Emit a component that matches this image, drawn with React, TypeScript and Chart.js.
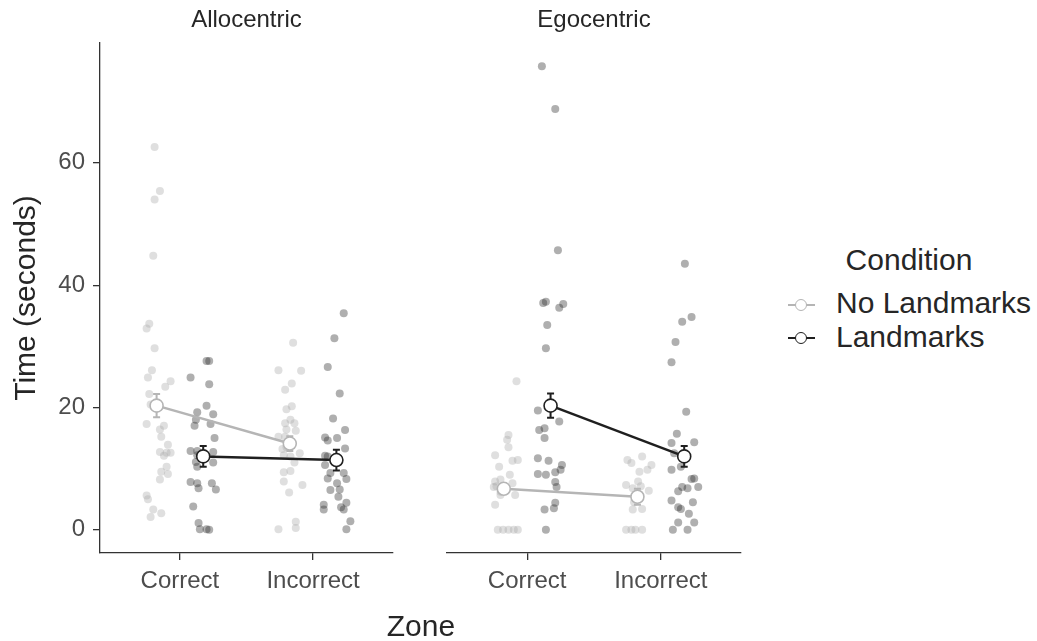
import React, { useEffect, useRef } from 'react';
import { Chart, registerables } from 'chart.js';

Chart.register(...registerables);

// ---------- data ----------
const zoneLabels = ['Correct', 'Incorrect'];
const facetLabels = ['Allocentric', 'Egocentric'];
const conditionLabels = ['No Landmarks', 'Landmarks'];
const yTicks = [0, 20, 40, 60];
const xAxisTitle = 'Zone';
const yAxisTitle = 'Time (seconds)';
const legendTitle = 'Condition';

// Allocentric, No Landmarks (Correct then Incorrect); x = category position incl. dodge + jitter
const alloNoLmY = [62.6, 55.4, 54.0, 44.8, 33.7, 32.9, 29.7, 26.1, 24.9, 24.3, 23.4, 22.2, 20.5, 17.3, 17.0, 16.4, 15.2, 13.9, 12.6, 12.7, 12.6, 12.1, 10.3, 9.5, 9.1, 8.2, 5.6, 5.0, 3.3, 2.7, 2.1,
  30.6, 26.1, 26.0, 23.9, 22.9, 19.7, 20.2, 18.0, 17.4, 17.4, 16.4, 16.2, 15.2, 15.2, 12.2, 12.5, 12.0, 9.4, 9.6, 7.9, 7.3, 6.1, 1.3, 0.3, 0.1, 14.3, 13.5, 11.0, 13.2];
const alloNoLmX = [0.81, 0.85, 0.81, 0.80, 0.77, 0.75, 0.81, 0.79, 0.76, 0.93, 0.89, 0.77, 0.78, 0.75, 0.88, 0.85, 0.86, 0.91, 0.90, 0.85, 0.93, 0.88, 0.90, 0.86, 0.91, 0.85, 0.75, 0.76, 0.80, 0.86, 0.78,
  1.85, 1.74, 1.91, 1.84, 1.79, 1.80, 1.84, 1.83, 1.79, 1.86, 1.80, 1.87, 1.74, 1.79, 1.78, 1.90, 1.83, 1.78, 1.83, 1.78, 1.92, 1.82, 1.87, 1.87, 1.74, 1.82, 1.80, 1.86, 1.77];

// Allocentric, Landmarks
const alloLmY = [27.6, 27.6, 24.9, 23.8, 20.3, 19.2, 18.9, 18.0, 17.0, 17.3, 15.0, 12.9, 12.9, 10.3, 11.0, 7.8, 7.6, 6.8, 7.6, 6.6, 3.8, 1.1, 0.1, 0.1, 0.0, 12.2, 12.7, 11.1,
  35.4, 31.3, 26.6, 22.3, 18.2, 16.3, 15.1, 14.6, 15.0, 13.3, 12.0, 10.6, 9.3, 8.4, 9.3, 8.3, 6.5, 7.6, 6.6, 5.4, 4.4, 4.1, 3.3, 3.7, 3.3, 1.4, 0.1, 12.1];
const alloLmX = [1.20, 1.22, 1.08, 1.22, 1.20, 1.13, 1.25, 1.12, 1.11, 1.23, 1.26, 1.08, 1.13, 1.13, 1.25, 1.08, 1.13, 1.14, 1.24, 1.27, 1.10, 1.14, 1.15, 1.20, 1.22, 1.13, 1.25, 1.12,
  2.23, 2.16, 2.11, 2.20, 2.15, 2.24, 2.09, 2.11, 2.18, 2.24, 2.11, 2.09, 2.13, 2.11, 2.23, 2.25, 2.13, 2.18, 2.20, 2.19, 2.25, 2.08, 2.08, 2.21, 2.23, 2.28, 2.25, 2.09];

// Egocentric, No Landmarks
const egoNoLmY = [24.3, 15.5, 14.7, 13.5, 12.2, 11.3, 11.4, 10.3, 9.0, 7.9, 8.2, 7.1, 7.6, 5.7, 5.7, 4.1, 0, 0, 0, 0, 0, 7.0, 6.5, 6.2,
  11.4, 12.0, 10.9, 10.6, 9.5, 9.8, 7.9, 7.3, 7.1, 6.4, 6.8, 3.3, 3.4, 0, 0, 0, 0, 5.0, 4.5];
const egoNoLmX = [0.92, 0.86, 0.85, 0.86, 0.76, 0.89, 0.93, 0.79, 0.87, 0.76, 0.80, 0.77, 0.89, 0.91, 0.80, 0.76, 0.78, 0.82, 0.86, 0.90, 0.93, 0.75, 0.83, 0.80,
  1.75, 1.86, 1.78, 1.93, 1.84, 1.90, 1.83, 1.74, 1.85, 1.91, 1.79, 1.79, 1.86, 1.74, 1.78, 1.81, 1.86, 1.82, 1.80];

// Egocentric, Landmarks
const egoLmY = [75.8, 68.8, 45.7, 37.1, 37.3, 36.3, 36.9, 33.5, 29.7, 19.5, 17.7, 16.6, 16.3, 15.0, 11.7, 11.3, 10.6, 9.4, 9.1, 9.0, 9.8, 7.8, 7.0, 4.4, 3.3, 3.5, 0,
  43.5, 34.8, 34.0, 30.7, 27.4, 19.3, 15.7, 14.2, 14.3, 12.5, 10.3, 9.8, 8.3, 8.4, 7.0, 7.0, 6.3, 6.8, 4.8, 4.5, 3.7, 3.4, 2.6, 1.2, 1.2, 0, 0];
const egoLmX = [1.11, 1.21, 1.23, 1.12, 1.14, 1.24, 1.27, 1.15, 1.14, 1.08, 1.24, 1.13, 1.09, 1.13, 1.08, 1.16, 1.26, 1.21, 1.08, 1.14, 1.25, 1.21, 1.22, 1.21, 1.13, 1.20, 1.14,
  2.18, 2.23, 2.16, 2.11, 2.08, 2.19, 2.12, 2.08, 2.25, 2.10, 2.15, 2.08, 2.23, 2.25, 2.28, 2.16, 2.13, 2.20, 2.08, 2.24, 2.13, 2.15, 2.21, 2.13, 2.25, 2.09, 2.20];

// Means and standard errors (Correct, Incorrect)
const alloNoLmMeans = [20.3, 14.1];
const alloNoLmSE = [1.9, 1.2];
const alloLmMeans = [12.0, 11.4];
const alloLmSE = [1.7, 1.7];
const egoNoLmMeans = [6.7, 5.4];
const egoNoLmSE = [0.8, 1.3];
const egoLmMeans = [20.3, 12.0];
const egoLmSE = [2.0, 1.7];

// ---------- styles ----------
const FONT = "'Liberation Sans', Arial, Helvetica, sans-serif";
const NO_LM_POINT = 'rgba(165,165,165,0.36)';
const LM_POINT = 'rgba(45,45,45,0.38)';
const NO_LM_LINE = '#b5b5b5';
const LM_LINE = '#1f1f1f';
const AXIS_COLOR = '#333333';
const TICK_TEXT = '#4d4d4d';
const TITLE_TEXT = '#262626';
const DODGE = 0.175;
const Y_MIN = -3.8;
const Y_MAX = 79.6;
const PLOT_BOTTOM_H = 88;

const pts = (xs: number[], ys: number[]) => ys.map((y, i) => ({ x: xs[i], y }));
const meanPts = (means: number[], sign: number) => means.map((m, i) => ({ x: i + 1 + sign * DODGE, y: m }));

const errorBarPlugin = {
  id: 'errorBars',
  afterDatasetDraw(chart: any, args: any) {
    const ds: any = chart.data.datasets[args.index];
    if (!ds.errors) return;
    const { ctx } = chart;
    const xs = chart.scales.x;
    const ys = chart.scales.y;
    ctx.save();
    ctx.strokeStyle = ds.borderColor;
    ctx.lineWidth = 2;
    ds.data.forEach((p: any, i: number) => {
      const px = xs.getPixelForValue(p.x);
      const yt = ys.getPixelForValue(p.y + ds.errors[i]);
      const yb = ys.getPixelForValue(p.y - ds.errors[i]);
      ctx.beginPath();
      ctx.moveTo(px, yt);
      ctx.lineTo(px, yb);
      ctx.moveTo(px - 3.5, yt);
      ctx.lineTo(px + 3.5, yt);
      ctx.moveTo(px - 3.5, yb);
      ctx.lineTo(px + 3.5, yb);
      ctx.stroke();
    });
    ctx.restore();
  },
};

function makeConfig(facet: number): any {
  const noY = facet === 0 ? alloNoLmY : egoNoLmY;
  const noX = facet === 0 ? alloNoLmX : egoNoLmX;
  const lmY = facet === 0 ? alloLmY : egoLmY;
  const lmX = facet === 0 ? alloLmX : egoLmX;
  const noM = facet === 0 ? alloNoLmMeans : egoNoLmMeans;
  const noSE = facet === 0 ? alloNoLmSE : egoNoLmSE;
  const lmM = facet === 0 ? alloLmMeans : egoLmMeans;
  const lmSE = facet === 0 ? alloLmSE : egoLmSE;

  const yScale: any = facet === 0
    ? {
        type: 'linear',
        min: Y_MIN,
        max: Y_MAX,
        afterBuildTicks: (s: any) => { s.ticks = yTicks.map((v) => ({ value: v })); },
        afterFit: (s: any) => { s.width = 100; },
        ticks: { font: { size: 24, family: FONT }, color: TICK_TEXT, padding: 8 },
        grid: { display: true, drawOnChartArea: false, drawTicks: true, tickLength: 7, color: AXIS_COLOR, lineWidth: 1.3 },
        border: { display: true, color: AXIS_COLOR, width: 1.3 },
        title: { display: true, text: yAxisTitle, font: { size: 30, family: FONT }, color: TITLE_TEXT, padding: { top: 9, bottom: 0 } },
      }
    : { type: 'linear', min: Y_MIN, max: Y_MAX, display: false };

  return {
    type: 'scatter',
    data: {
      datasets: [
        { type: 'scatter', label: conditionLabels[1] + ' mean', data: meanPts(lmM, 1), pointRadius: 6.5, pointBackgroundColor: '#ffffff', pointBorderColor: LM_LINE, pointBorderWidth: 1.6 },
        { type: 'scatter', label: conditionLabels[0] + ' mean', data: meanPts(noM, -1), pointRadius: 6.5, pointBackgroundColor: '#ffffff', pointBorderColor: NO_LM_LINE, pointBorderWidth: 1.6 },
        { type: 'line', label: conditionLabels[1] + ' line', data: meanPts(lmM, 1), showLine: true, borderColor: LM_LINE, borderWidth: 2.5, pointRadius: 0, fill: false, errors: lmSE },
        { type: 'line', label: conditionLabels[0] + ' line', data: meanPts(noM, -1), showLine: true, borderColor: NO_LM_LINE, borderWidth: 2.5, pointRadius: 0, fill: false, errors: noSE },
        { type: 'scatter', label: conditionLabels[1], data: pts(lmX, lmY), pointRadius: 4, pointBackgroundColor: LM_POINT, pointBorderWidth: 0, pointBorderColor: 'rgba(0,0,0,0)' },
        { type: 'scatter', label: conditionLabels[0], data: pts(noX, noY), pointRadius: 4, pointBackgroundColor: NO_LM_POINT, pointBorderWidth: 0, pointBorderColor: 'rgba(0,0,0,0)' },
      ],
    },
    options: {
      responsive: false,
      animation: false,
      layout: { padding: facet === 0 ? { left: 0, right: 27, top: 0, bottom: 0 } : { left: 27, right: 19, top: 0, bottom: 0 } },
      plugins: {
        legend: { display: false },
        tooltip: { enabled: false },
        title: {
          display: true,
          text: facetLabels[facet],
          fullSize: false,
          font: { size: 24, weight: 'normal', family: FONT },
          color: TITLE_TEXT,
          padding: { top: 6, bottom: 8.2 },
        },
      },
      scales: {
        x: {
          type: 'linear',
          min: 0.4,
          max: 2.6,
          afterBuildTicks: (s: any) => { s.ticks = zoneLabels.map((_, i) => ({ value: i + 1 })); },
          afterFit: (s: any) => { s.height = PLOT_BOTTOM_H; },
          ticks: {
            callback: (v: number) => zoneLabels[Math.round(v) - 1],
            font: { size: 24, family: FONT },
            color: TICK_TEXT,
            padding: 7,
            autoSkip: false,
            maxRotation: 0,
          },
          grid: { display: true, drawOnChartArea: false, drawTicks: true, tickLength: 7, color: AXIS_COLOR, lineWidth: 1.3 },
          border: { display: true, color: AXIS_COLOR, width: 1.3 },
        },
        y: yScale,
      },
    },
    plugins: [errorBarPlugin],
  };
}

function LegendKey({ color }: { color: string }) {
  return (
    <div style={{ position: 'relative', width: 27, height: 16 }}>
      <div style={{ position: 'absolute', left: 0, top: 6.75, width: 27, height: 2.5, background: color }} />
      <div style={{ position: 'absolute', left: 7, top: 2, width: 10, height: 10, borderRadius: '50%', border: `1.6px solid ${color}`, background: '#fff' }} />
    </div>
  );
}

export default function App() {
  const ref1 = useRef<HTMLCanvasElement | null>(null);
  const ref2 = useRef<HTMLCanvasElement | null>(null);

  useEffect(() => {
    Chart.defaults.font.family = FONT;
    const c1 = new Chart(ref1.current as HTMLCanvasElement, makeConfig(0));
    const c2 = new Chart(ref2.current as HTMLCanvasElement, makeConfig(1));
    return () => { c1.destroy(); c2.destroy(); };
  }, []);

  const textBase: React.CSSProperties = { position: 'absolute', fontFamily: FONT, whiteSpace: 'nowrap', lineHeight: '1' };

  return (
    <div style={{ position: 'fixed', left: 0, top: 0, width: 1037, height: 641, background: '#ffffff', overflow: 'hidden' }}>
      <canvas ref={ref1} width={420} height={641} style={{ position: 'absolute', left: 0, top: 0, width: 420, height: 641 }} />
      <canvas ref={ref2} width={340} height={641} style={{ position: 'absolute', left: 420, top: 0, width: 340, height: 641 }} />
      <div style={{ ...textBase, left: 321, width: 200, textAlign: 'center', top: 626 - 14.7, fontSize: 30, color: TITLE_TEXT }}>{xAxisTitle}</div>
      <div style={{ ...textBase, left: 809, width: 200, textAlign: 'center', top: 260 - 14.7, fontSize: 30, color: TITLE_TEXT }}>{legendTitle}</div>
      <div style={{ position: 'absolute', left: 788, top: 305 - 8 }}><LegendKey color={NO_LM_LINE} /></div>
      <div style={{ position: 'absolute', left: 788, top: 338 - 8 }}><LegendKey color={LM_LINE} /></div>
      <div style={{ ...textBase, left: 836, top: 303 - 14.7, fontSize: 30, color: TITLE_TEXT }}>{conditionLabels[0]}</div>
      <div style={{ ...textBase, left: 836, top: 337 - 14.7, fontSize: 30, color: TITLE_TEXT }}>{conditionLabels[1]}</div>
    </div>
  );
}
